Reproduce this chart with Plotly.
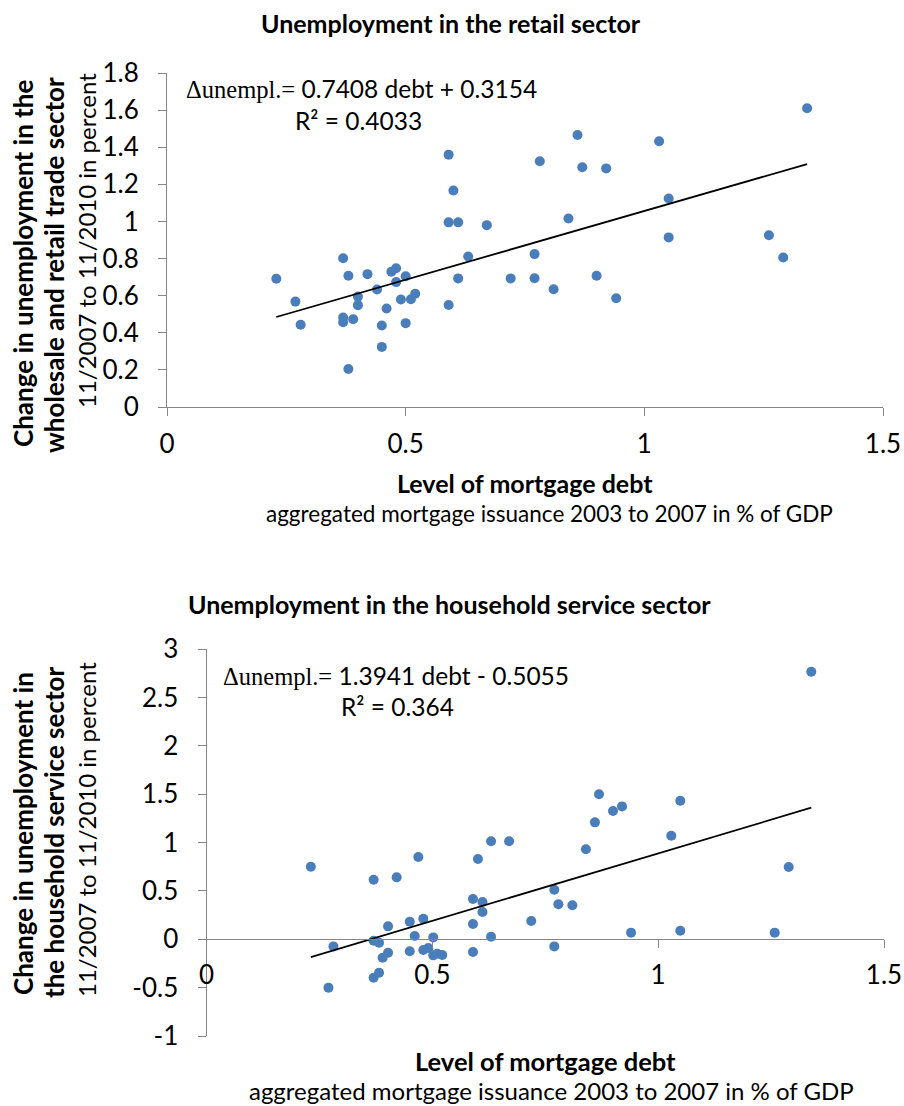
import plotly.graph_objects as go

# ---------------- data ----------------
# Top chart: retail / wholesale trade sector
retail_debt = [0.229, 0.269, 0.280, 0.369, 0.380, 0.369, 0.369, 0.390, 0.380, 0.400,
               0.400, 0.420, 0.440, 0.460, 0.450, 0.450, 0.470, 0.480, 0.480, 0.500,
               0.490, 0.511, 0.520, 0.500, 0.590, 0.600, 0.590, 0.610, 0.670, 0.631,
               0.610, 0.590, 0.720, 0.781, 0.860, 0.870, 0.920, 1.031, 0.841, 1.051,
               1.051, 0.770, 0.770, 0.810, 0.900, 0.941, 1.261, 1.291, 1.341]
retail_unempl = [0.691, 0.568, 0.443, 0.802, 0.707, 0.482, 0.457, 0.473, 0.205, 0.595,
                 0.549, 0.716, 0.633, 0.531, 0.439, 0.324, 0.729, 0.748, 0.673, 0.705,
                 0.579, 0.581, 0.610, 0.452, 1.360, 1.167, 0.995, 0.995, 0.980, 0.811,
                 0.693, 0.550, 0.693, 1.324, 1.466, 1.292, 1.286, 1.432, 1.016, 1.124,
                 0.914, 0.824, 0.694, 0.635, 0.707, 0.586, 0.926, 0.806, 1.610]
retail_slope, retail_intercept, retail_r2 = 0.7408, 0.3154, "0.4033"

# Bottom chart: household service sector
house_debt = [0.231, 0.281, 0.270, 0.370, 0.370, 0.382, 0.370, 0.382, 0.390, 0.402,
              0.402, 0.421, 0.450, 0.450, 0.461, 0.469, 0.480, 0.480, 0.491, 0.502,
              0.502, 0.511, 0.522, 0.590, 0.601, 0.611, 0.611, 0.590, 0.590, 0.630,
              0.670, 0.630, 0.840, 0.860, 0.869, 0.900, 0.920, 1.049, 1.029, 0.770,
              0.779, 0.810, 0.719, 0.770, 0.940, 1.049, 1.258, 1.289, 1.339]
house_unempl = [0.751, -0.073, -0.500, 0.617, -0.014, -0.035, -0.397, -0.345, -0.190, -0.139,
                0.134, 0.641, 0.182, -0.124, 0.034, 0.851, 0.213, -0.111, -0.090, 0.020,
                -0.166, -0.149, -0.162, 0.417, 0.831, 0.386, 0.283, 0.158, -0.131, 1.014,
                1.014, 0.027, 0.931, 1.210, 1.500, 1.327, 1.375, 1.434, 1.072, 0.513,
                0.362, 0.352, 0.189, -0.073, 0.069, 0.089, 0.069, 0.748, 2.768]
house_slope, house_intercept, house_r2 = 1.3941, -0.5055, "0.364"

x_ticks = [0, 0.5, 1, 1.5]
house_y_ticks = [-1, -0.5, 0, 0.5, 1, 1.5, 2, 2.5, 3]
house_y_labels = ["-1", "-0.5", "0", "0.5", "1", "1.5", "2", "2.5", "3"]

# ---------------- layout helpers ----------------
W, H = 904, 1106
def px(x):
    return x / W
def py(y):
    return 1 - y / H

FONT = "Lato, 'Open Sans', sans-serif"
AXC = "#868686"
DOT = "#4A7EBB"

fig = go.Figure()

def trend(xs, slope, intercept):
    lo, hi = min(xs), max(xs)
    return [lo, hi], [slope * lo + intercept, slope * hi + intercept]

# top scatter + trend
fig.add_trace(go.Scatter(x=retail_debt, y=retail_unempl, mode="markers",
                         marker=dict(color=DOT, size=10), xaxis="x", yaxis="y",
                         showlegend=False, hoverinfo="skip"))
tx, ty = trend(retail_debt, retail_slope, retail_intercept)
fig.add_trace(go.Scatter(x=tx, y=ty, mode="lines", line=dict(color="black", width=1.8),
                         xaxis="x", yaxis="y", showlegend=False, hoverinfo="skip"))
# bottom scatter + trend
fig.add_trace(go.Scatter(x=house_debt, y=house_unempl, mode="markers",
                         marker=dict(color=DOT, size=10), xaxis="x2", yaxis="y2",
                         showlegend=False, hoverinfo="skip"))
tx, ty = trend(house_debt, house_slope, house_intercept)
fig.add_trace(go.Scatter(x=tx, y=ty, mode="lines", line=dict(color="black", width=1.8),
                         xaxis="x2", yaxis="y2", showlegend=False, hoverinfo="skip"))

axis_common = dict(showgrid=False, zeroline=False, showline=True, linecolor=AXC,
                   linewidth=1, ticks="outside", ticklen=8, tickcolor=AXC, tickwidth=1,
                   ticklabeloverflow="allow", automargin=False,
                   tickfont=dict(family=FONT, size=26, color="black"))

fig.update_layout(
    width=W, height=H,
    margin=dict(l=0, r=0, t=0, b=0, pad=0, autoexpand=False),
    paper_bgcolor="white", plot_bgcolor="white",
    font=dict(family=FONT, color="black"),
    xaxis=dict(domain=[px(167), px(883)], range=[0, 1.5], tickvals=x_ticks,
               anchor="y", ticklabelstandoff=6, **axis_common),
    yaxis=dict(domain=[py(407), py(73)], range=[0, 1.8], dtick=0.2, tick0=0,
               anchor="x", ticklabelstandoff=14, **axis_common),
    xaxis2=dict(domain=[px(206.5), px(884)], range=[0, 1.5], tickvals=x_ticks,
                anchor="free", position=py(939.3), ticklabelstandoff=4, **axis_common),
    yaxis2=dict(domain=[py(1036), py(649.3)], range=[-1, 3], tickvals=house_y_ticks,
                ticktext=house_y_labels, anchor="x2", ticklabelstandoff=14, **axis_common),
)

def ann(text, x, y, size, angle=0, bold=False):
    fig.add_annotation(text=("<b>%s</b>" % text) if bold else text,
                       xref="paper", yref="paper", x=px(x), y=py(y),
                       xanchor="center", yanchor="middle", showarrow=False,
                       textangle=angle, font=dict(family=FONT, size=size, color="black"))

# titles
ann("Unemployment in the retail sector", 451, 23, 25, bold=True)
ann("Unemployment in the household service sector", 449, 604, 25, bold=True)

# y axis titles (top)
ann("Change in unemployment in the", 23, 264, 26, angle=-90, bold=True)
ann("wholesale and retail trade sector", 54, 265, 26, angle=-90, bold=True)
ann("11/2007 to 11/2010 in percent", 86, 241, 24, angle=-90)
# y axis titles (bottom)
ann("Change in unemployment in", 23, 834, 26, angle=-90, bold=True)
ann("the household service sector", 54, 833, 26, angle=-90, bold=True)
ann("11/2007 to 11/2010 in percent", 86, 830, 24, angle=-90)

# x axis titles
ann("Level of mortgage debt", 525, 483, 25, bold=True)
ann("aggregated mortgage issuance 2003 to 2007 in % of GDP", 549, 513, 22.5)
ann("Level of mortgage debt", 545, 1061, 25.5, bold=True)
ann("aggregated mortgage issuance 2003 to 2007 in % of GDP", 551, 1090, 24)

# regression equations
def eq(slope, intercept):
    sign = "+" if intercept >= 0 else "-"
    return ('<span style="font-family:Liberation Serif">Δunempl.=</span> %.4f debt %s %.4f'
            % (slope, sign, abs(intercept)))

ann(eq(retail_slope, retail_intercept), 361, 88, 24.5)
ann("R² = " + retail_r2, 358, 120, 24.5)
ann(eq(house_slope, house_intercept), 396, 675, 24.5)
ann("R² = " + house_r2, 397, 706, 24.5)

fig.write_html("out.html")
